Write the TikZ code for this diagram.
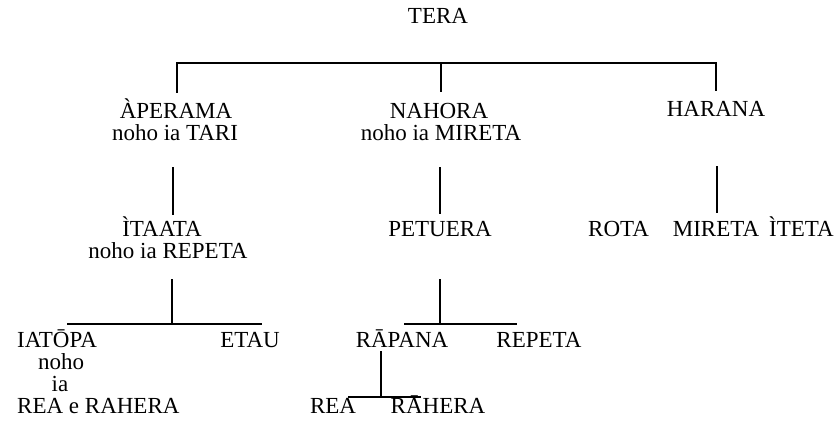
\documentclass[tikz,border=0pt]{standalone}
\usepackage{fontspec}
\setmainfont{Liberation Serif}
\begin{document}
\begin{tikzpicture}[x=1pt,y=-1pt,
  lbl/.style={anchor=base,inner sep=0pt,font=\fontsize{23}{25}\selectfont},
  ln/.style={line width=2.9pt,line cap=rect}]
\useasboundingbox (0,0) rectangle (836,424);
% level 0
\node[lbl] (tera) at (438,23) {TERA};
% level 1
\node[lbl] (aperama) at (176,118) {ÀPERAMA};
\node[lbl] (tari) at (175,140) {noho ia TARI};
\node[lbl] (nahora) at (439,118) {NAHORA};
\node[lbl] (mireta1) at (441,140) {noho ia MIRETA};
\node[lbl] (harana) at (716,116) {HARANA};
% level 2
\node[lbl] (itaata) at (162,236) {ÌTAATA};
\node[lbl] (repeta1) at (168,258) {noho ia REPETA};
\node[lbl] (petuera) at (440,236) {PETUERA};
\node[lbl,anchor=base west] (rota) at (588,236) {ROTA};
\node[lbl] (mireta2) at (716,236) {MIRETA};
\node[lbl,anchor=base east] (iteta) at (834,236) {ÌTETA};
% level 3
\node[lbl,anchor=base west] (iatopa) at (17,347) {IATŌPA};
\node[lbl] (noho) at (61,369) {noho};
\node[lbl] (ia) at (60,391) {ia};
\node[lbl,anchor=base west] (rearahera) at (17,413) {REA e RAHERA};
\node[lbl] (etau) at (250,347) {ETAU};
\node[lbl] (rapana) at (402,347) {RĀPANA};
\node[lbl] (repeta2) at (539,347) {REPETA};
% level 4
\node[lbl] (rea) at (333,413) {REA};
\node[lbl] (rahera) at (438,413) {RĀHERA};
% connector points
\coordinate (t1) at (177,63);
\coordinate (t2) at (441,63);
\coordinate (t3) at (716,63);
\coordinate (a1) at (177,92);
\coordinate (a2) at (441,91);
\coordinate (a3) at (716,90);
\coordinate (b1t) at (173,168);
\coordinate (b1b) at (173,214);
\coordinate (b2t) at (440,168);
\coordinate (b2b) at (440,213);
\coordinate (b3t) at (717,167);
\coordinate (b3b) at (717,212);
\coordinate (c1t) at (172,280);
\coordinate (c1b) at (172,324);
\coordinate (c1l) at (68,324);
\coordinate (c1r) at (261,324);
\coordinate (c2t) at (440,280);
\coordinate (c2b) at (440,324);
\coordinate (c2l) at (405,324);
\coordinate (c2r) at (516,324);
\coordinate (d1t) at (381,352);
\coordinate (d1b) at (381,397);
\coordinate (d1l) at (349,397);
\coordinate (d1r) at (420,397);
% connectors
\draw[ln] (a1) -- (t1) -- (t3) -- (a3);
\draw[ln] (t2) -- (a2);
\draw[ln] (b1t) -- (b1b);
\draw[ln] (b2t) -- (b2b);
\draw[ln] (b3t) -- (b3b);
\draw[ln] (c1t) -- (c1b);
\draw[ln] (c1l) -- (c1r);
\draw[ln] (c2t) -- (c2b);
\draw[ln] (c2l) -- (c2r);
\draw[ln] (d1t) -- (d1b);
\draw[ln] (d1l) -- (d1r);
\end{tikzpicture}
\end{document}
